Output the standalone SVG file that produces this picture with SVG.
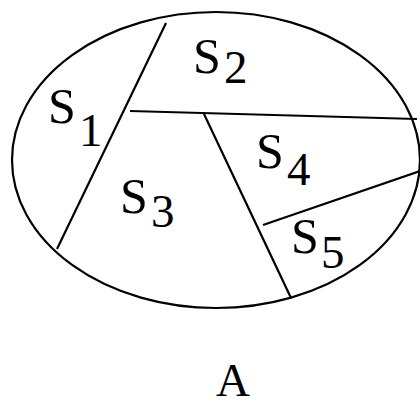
<svg xmlns="http://www.w3.org/2000/svg" width="420" height="405" viewBox="0 0 420 405">
<style>
.s{fill:none;stroke:#000;stroke-width:2.2}
.t{font-family:"Liberation Serif","Times New Roman",serif;font-size:47px;fill:#000}
.b{font-size:50px}
</style>
<rect width="420" height="405" fill="#fff"/>
<g id="region">
<ellipse class="s" cx="216" cy="160" rx="204" ry="148"/>
</g>
<g id="connectors">
<line class="s" x1="166" y1="23" x2="57" y2="249"/>
<line class="s" x1="130" y1="111" x2="417" y2="119"/>
<line class="s" x1="204" y1="114" x2="291" y2="298"/>
<line class="s" x1="263" y1="225" x2="420" y2="171"/>
</g>
<g id="S1"><text class="t b" x="48" y="123">S</text><text class="t" x="79" y="146">1</text></g>
<g id="S2"><text class="t b" x="193" y="73">S</text><text class="t" x="224" y="83">2</text></g>
<g id="S3"><text class="t b" x="120" y="213">S</text><text class="t" x="151" y="227">3</text></g>
<g id="S4"><text class="t b" x="256" y="168">S</text><text class="t" x="287" y="185">4</text></g>
<g id="S5"><text class="t b" x="291" y="253">S</text><text class="t" x="321" y="268">5</text></g>
<g id="A"><text class="t" x="233" y="396" text-anchor="middle">A</text></g>
</svg>
